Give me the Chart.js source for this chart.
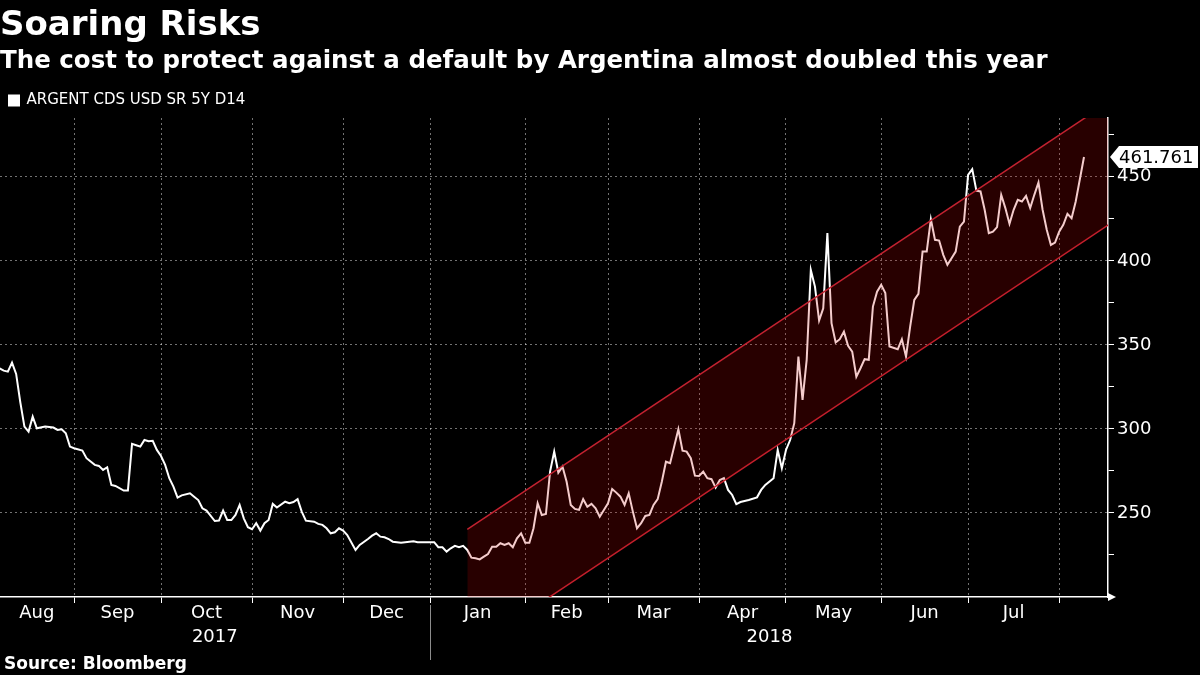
<!DOCTYPE html>
<html>
<head>
<meta charset="utf-8">
<script src="https://cdn.jsdelivr.net/npm/chart.js@4.4.1/dist/chart.umd.min.js"></script>
<style>
  html, body { margin: 0; padding: 0; background: #000; }
</style>
</head>
<body>
<canvas id="cds" width="1200" height="675"></canvas>
<script>
// x = business days counted from Tue 1 Aug 2017 (day 0), y = 5y CDS spread in bp
const day = [
  5, 6, 7, 8, 9, 10, 11, 12, 13, 14,
  16, 18, 19, 20, 21, 22, 23, 25, 26, 28,
  29, 30, 31, 32, 33, 35, 36, 37, 38, 39,
  40, 41, 42, 43, 44, 45, 46, 47, 48, 49,
  51, 52, 53, 54, 55, 57, 58, 59, 60, 61,
  62, 63, 64, 65, 66, 67, 68, 69, 70, 71,
  72, 74, 75, 76, 77, 78, 79, 81, 82, 83,
  84, 85, 86, 87, 88, 89, 91, 92, 94, 95,
  96, 97, 98, 99, 100, 102, 105, 106, 110, 111,
  112, 113, 114, 115, 116, 117, 118, 119, 120, 121,
  122, 123, 124, 125, 126, 127, 128, 129, 130, 131,
  132, 133, 134, 135, 136, 137, 138, 139, 140, 141,
  142, 143, 144, 145, 146, 147, 148, 149, 150, 151,
  152, 153, 154, 155, 156, 157, 158, 159, 160, 161,
  162, 163, 164, 165, 166, 167, 169, 170, 171, 172,
  173, 174, 175, 176, 177, 178, 179, 180, 181, 182,
  183, 184, 186, 188, 189, 190, 192, 193, 194, 195,
  196, 197, 198, 199, 200, 201, 202, 203, 204, 205,
  206, 207, 208, 209, 210, 211, 212, 213, 214, 215,
  216, 217, 218, 219, 220, 222, 223, 224, 225, 226,
  227, 228, 229, 230, 231, 232, 233, 234, 235, 236,
  237, 238, 239, 240, 241, 242, 243, 244, 245, 246,
  247, 248, 249, 250, 251, 252, 253, 254, 255, 256,
  257, 258, 259, 260, 261, 262, 263, 264, 265, 267
];
const spread = [
  336.1, 334.7, 334.1, 339.5, 332.7, 316.0, 301.4, 298.4, 307.3, 300.4,
  301.4, 300.8, 299.4, 299.8, 297.4, 289.5, 288.5, 287.1, 282.6, 278.6,
  278.0, 275.6, 277.2, 266.7, 266.1, 263.3, 263.3, 291.1, 290.3, 289.5,
  293.4, 292.7, 292.9, 287.5, 283.9, 278.6, 270.7, 265.7, 259.1, 260.5,
  261.7, 259.7, 257.7, 252.8, 251.4, 245.2, 245.5, 251.4, 245.8, 245.8,
  248.8, 254.8, 246.8, 241.5, 240.3, 243.9, 239.5, 243.9, 245.8, 255.4,
  253.2, 256.7, 255.8, 256.5, 258.2, 250.8, 245.4, 244.8, 243.5, 242.9,
  240.9, 237.9, 238.5, 240.9, 239.5, 236.9, 228.0, 231.0, 234.5, 236.5,
  237.9, 235.9, 235.5, 234.5, 232.9, 232.3, 233.2, 232.6, 232.6, 229.6,
  229.6, 227.0, 229.0, 230.4, 229.6, 230.4, 228.0, 223.4, 223.0, 222.4,
  224.0, 225.6, 229.9, 229.9, 232.0, 231.0, 232.0, 229.6, 234.9, 237.9,
  232.3, 232.3, 240.9, 255.8, 248.8, 249.4, 274.6, 286.5, 274.0, 277.6,
  268.6, 254.8, 252.4, 251.8, 258.2, 253.7, 255.4, 252.8, 247.8, 251.8,
  255.8, 264.3, 262.1, 259.7, 254.8, 261.7, 250.8, 240.9, 243.9, 248.2,
  248.8, 254.8, 258.2, 268.6, 280.5, 279.6, 299.8, 287.1, 286.5, 282.6,
  272.2, 272.0, 274.6, 270.7, 270.1, 265.1, 269.6, 270.7, 263.7, 260.7,
  255.2, 256.5, 257.7, 259.3, 263.7, 266.7, 270.7, 287.5, 276.6, 287.5,
  293.4, 303.4, 343.0, 317.3, 341.1, 394.6, 384.7, 364.5, 371.8, 416.5,
  362.9, 351.4, 353.4, 357.9, 349.4, 346.0, 331.1, 336.1, 341.5, 341.1,
  372.8, 381.7, 385.7, 380.8, 349.0, 347.4, 353.4, 343.0, 360.9, 376.8,
  380.4, 405.5, 405.5, 424.8, 412.5, 412.1, 403.6, 397.6, 401.6, 405.5,
  420.4, 423.4, 451.2, 454.6, 441.8, 441.3, 430.4, 416.5, 417.4, 420.1,
  439.3, 431.4, 422.0, 430.4, 436.3, 435.3, 438.7, 431.4, 439.3, 446.6,
  430.4, 418.5, 409.5, 410.9, 417.4, 421.4, 428.0, 425.4, 435.3, 461.761
];

// first business day of each month, and where the month names sit
const monthStart = [23, 44, 66, 88, 109, 132, 152, 174, 195, 218, 239, 261];
const monthMid = [14, 33.5, 55, 77, 98.5, 120.5, 142, 163, 184.5, 206.5, 228.5, 250];
const monthNames = ['Aug', 'Sep', 'Oct', 'Nov', 'Dec', 'Jan', 'Feb', 'Mar', 'Apr', 'May', 'Jun', 'Jul'];
const yearMid = [57, 191];
const yearNames = ['2017', '2018'];
const yearBreak = 109;

// the rising channel drawn over 2018
const channelDay = [118, 273];
const channelTop = [240.3, 494.5];
const channelBottom = [167.4, 421.6];

const dayMin = 5.1;
const dayMax = 272.8;

Chart.defaults.font.family = "'DejaVu Sans', sans-serif";
Chart.defaults.color = '#fff';

const gridColor = 'rgba(255,255,255,0.45)';
const bandRed = 'rgb(196,34,48)';

const extras = {
  id: 'extras',
  afterDraw(chart) {
    const ctx = chart.ctx;
    const x = chart.scales.x;
    const y = chart.scales.y;
    const years = chart.scales.years;
    ctx.save();

    // arrow head on the time axis
    ctx.fillStyle = '#fff';
    ctx.beginPath();
    ctx.moveTo(x.right, y.bottom - 4);
    ctx.lineTo(x.right + 8, y.bottom);
    ctx.lineTo(x.right, y.bottom + 4);
    ctx.closePath();
    ctx.fill();

    // divider between 2017 and 2018
    const xb = Math.round(x.getPixelForValue(yearBreak)) + 0.5;
    ctx.strokeStyle = 'rgba(255,255,255,0.55)';
    ctx.lineWidth = 1;
    ctx.beginPath();
    ctx.moveTo(xb, x.bottom + 2);
    ctx.lineTo(xb, years.bottom + 7);
    ctx.stroke();

    // last value tag
    const last = chart.getDatasetMeta(0).data.at(-1);
    const ty = last.y;
    const tx = x.right + 2;
    ctx.fillStyle = '#fff';
    ctx.beginPath();
    ctx.moveTo(tx, ty);
    ctx.lineTo(tx + 9, ty - 11);
    ctx.lineTo(1198, ty - 11);
    ctx.lineTo(1198, ty + 11);
    ctx.lineTo(tx + 9, ty + 11);
    ctx.closePath();
    ctx.fill();
    ctx.fillStyle = '#000';
    ctx.font = "18px 'DejaVu Sans'";
    ctx.textAlign = 'left';
    ctx.textBaseline = 'middle';
    ctx.fillText(spread[spread.length - 1].toFixed(3), tx + 9, ty + 1);

    // source line
    ctx.fillStyle = '#fff';
    ctx.font = "bold 17px 'DejaVu Sans'";
    ctx.fillText('Source: Bloomberg', 4, 665);
    ctx.restore();
  }
};

new Chart(document.getElementById('cds'), {
  type: 'line',
  data: {
    datasets: [
      {
        label: 'ARGENT CDS USD SR 5Y D14',
        data: day.map((d, i) => ({x: d, y: spread[i]})),
        borderColor: '#fff',
        backgroundColor: '#fff',
        borderWidth: 2,
        pointRadius: 0,
        fill: false,
        order: 2
      },
      {
        label: 'channel top',
        data: channelDay.map((d, i) => ({x: d, y: channelTop[i]})),
        borderColor: bandRed,
        borderWidth: 1.5,
        backgroundColor: 'rgba(200,0,0,0.2)',
        pointRadius: 0,
        fill: '+1',
        order: 1
      },
      {
        label: 'channel bottom',
        data: channelDay.map((d, i) => ({x: d, y: channelBottom[i]})),
        borderColor: bandRed,
        borderWidth: 1.5,
        pointRadius: 0,
        fill: false,
        order: 1
      }
    ]
  },
  options: {
    responsive: false,
    animation: false,
    layout: {padding: {left: 0, right: 0, top: 0, bottom: 22}},
    plugins: {
      title: {
        display: true,
        text: 'Soaring Risks',
        align: 'start',
        color: '#fff',
        font: {size: 34, weight: 'bold'},
        padding: {top: 6, bottom: 0}
      },
      subtitle: {
        display: true,
        text: 'The cost to protect against a default by Argentina almost doubled this year',
        align: 'start',
        color: '#fff',
        font: {size: 24.5, weight: 'bold'},
        padding: {top: 0, bottom: 7.8}
      },
      legend: {
        align: 'start',
        labels: {
          filter: item => item.datasetIndex === 0,
          color: '#fff',
          font: {size: 15},
          boxWidth: 10,
          boxHeight: 10,
          padding: 9
        }
      },
      tooltip: {enabled: false}
    },
    scales: {
      x: {
        type: 'linear',
        position: 'bottom',
        weight: 0,
        min: dayMin,
        max: dayMax,
        afterBuildTicks: s => { s.ticks = monthStart.map(v => ({value: v})); },
        afterFit: s => { s.height = 6; },
        ticks: {display: false},
        grid: {color: gridColor, tickColor: '#fff', tickLength: 6},
        border: {color: '#fff', width: 1.5, dash: [2, 3]}
      },
      months: {
        type: 'linear',
        position: 'bottom',
        weight: 1,
        min: dayMin,
        max: dayMax,
        afterBuildTicks: s => { s.ticks = monthMid.map(v => ({value: v})); },
        afterFit: s => { s.height = 24; },
        ticks: {
          callback: (v, i) => monthNames[i],
          autoSkip: false,
          maxRotation: 0,
          padding: 0,
          color: '#fff',
          font: {size: 18}
        },
        grid: {display: false, drawTicks: false},
        border: {display: false}
      },
      years: {
        type: 'linear',
        position: 'bottom',
        weight: 2,
        min: dayMin,
        max: dayMax,
        afterBuildTicks: s => { s.ticks = yearMid.map(v => ({value: v})); },
        afterFit: s => { s.height = 26; },
        ticks: {
          callback: (v, i) => yearNames[i],
          autoSkip: false,
          maxRotation: 0,
          padding: 0,
          color: '#fff',
          font: {size: 18}
        },
        grid: {display: false, drawTicks: false},
        border: {display: false}
      },
      y: {
        type: 'linear',
        position: 'right',
        min: 200,
        max: 485,
        afterFit: s => { s.width = 92; },
        ticks: {
          stepSize: 25,
          includeBounds: false,
          callback: v => (v % 50 === 0 && v > 200 ? v : ''),
          color: '#fff',
          font: {size: 18},
          padding: 3
        },
        grid: {
          color: c => (c.tick && c.tick.value % 50 === 0 && c.tick.value > 200 ? gridColor : 'transparent'),
          tickColor: '#fff',
          tickLength: 6
        },
        border: {color: '#fff', width: 1.5, dash: [2, 3]}
      }
    }
  },
  plugins: [extras]
});
</script>
</body>
</html>
